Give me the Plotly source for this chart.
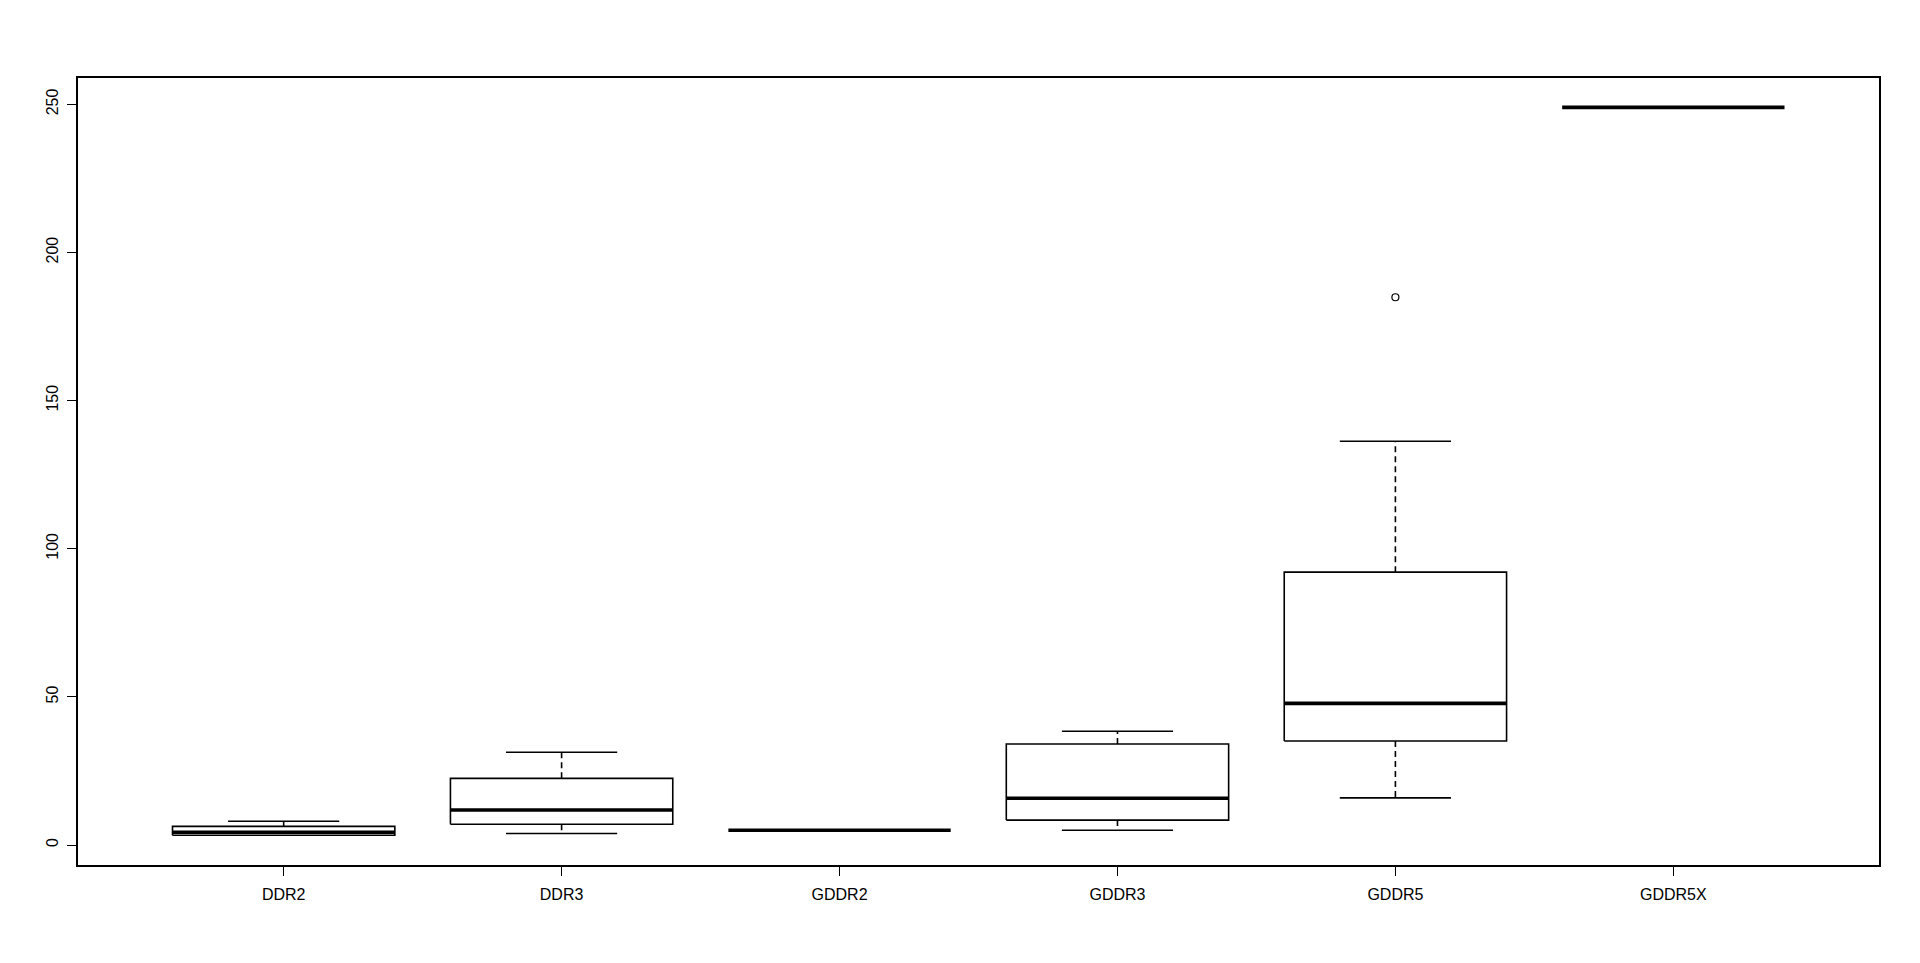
import plotly.graph_objects as go

categories = ["DDR2", "DDR3", "GDDR2", "GDDR3", "GDDR5", "GDDR5X"]
lower_whisker = [3.1, 3.9, 5.0, 5.0, 15.9, 249.0]
q1 = [3.3, 7.0, 5.0, 8.4, 35.1, 249.0]
median = [4.3, 11.8, 5.0, 15.8, 47.8, 249.0]
q3 = [6.3, 22.5, 5.0, 34.1, 92.1, 249.0]
upper_whisker = [8.0, 31.3, 5.0, 38.4, 136.3, 249.0]
outlier_cat = ["GDDR5"]
outlier_val = [184.9]

box_w = 0.8
cap_w = 0.4

fig = go.Figure()
line_style = dict(color="black", width=1.6)

for i, cat in enumerate(categories):
    x = i + 1
    xl, xr = x - box_w / 2, x + box_w / 2
    cl, cr = x - cap_w / 2, x + cap_w / 2
    # whiskers (dashed)
    if upper_whisker[i] > q3[i]:
        fig.add_trace(go.Scatter(x=[x, x], y=[q3[i], upper_whisker[i]], mode="lines",
                                 line=dict(color="black", width=1.6, dash="6px,4px"),
                                 showlegend=False, hoverinfo="skip"))
    if lower_whisker[i] < q1[i]:
        fig.add_trace(go.Scatter(x=[x, x], y=[q1[i], lower_whisker[i]], mode="lines",
                                 line=dict(color="black", width=1.6, dash="6px,4px"),
                                 showlegend=False, hoverinfo="skip"))
    # caps
    if upper_whisker[i] != q3[i]:
        fig.add_trace(go.Scatter(x=[cl, cr], y=[upper_whisker[i]] * 2, mode="lines",
                                 line=line_style, showlegend=False, hoverinfo="skip"))
    if lower_whisker[i] < q1[i] - 0.5:
        fig.add_trace(go.Scatter(x=[cl, cr], y=[lower_whisker[i]] * 2, mode="lines",
                                 line=line_style, showlegend=False, hoverinfo="skip"))
    # box
    if q3[i] > q1[i]:
        fig.add_trace(go.Scatter(x=[xl, xr, xr, xl, xl], y=[q1[i], q1[i], q3[i], q3[i], q1[i]],
                                 mode="lines", line=line_style, showlegend=False, hoverinfo="skip"))
    # median
    fig.add_trace(go.Scatter(x=[xl, xr], y=[median[i]] * 2, mode="lines",
                             line=dict(color="black", width=3.6), showlegend=False, hoverinfo="skip"))

fig.add_trace(go.Scatter(x=[categories.index(c) + 1 for c in outlier_cat], y=outlier_val,
                         mode="markers",
                         marker=dict(symbol="circle-open", size=7, color="black", line=dict(width=1.2)),
                         showlegend=False, hoverinfo="skip"))

fig.update_layout(
    width=1920, height=963,
    paper_bgcolor="white", plot_bgcolor="white",
    margin=dict(l=70, r=49, t=70, b=106, pad=0),
    font=dict(family="Liberation Sans, Arial, sans-serif", size=16, color="black"),
    xaxis=dict(range=[0.26, 6.74], tickvals=list(range(1, 7)), ticktext=categories,
               showgrid=False, zeroline=False, showline=True, mirror=True,
               linecolor="black", linewidth=1.6, ticks="outside", ticklen=9,
               tickwidth=1.4, tickcolor="black", ticklabelstandoff=5),
    yaxis=dict(range=[-6.75, 258.9], tickvals=[0, 50, 100, 150, 200, 250],
               tickangle=-90, showgrid=False, zeroline=False, showline=True, mirror=True,
               linecolor="black", linewidth=1.6, ticks="outside", ticklen=9,
               tickwidth=1.4, tickcolor="black", ticklabelstandoff=3),
)

fig.write_html("out.html")
